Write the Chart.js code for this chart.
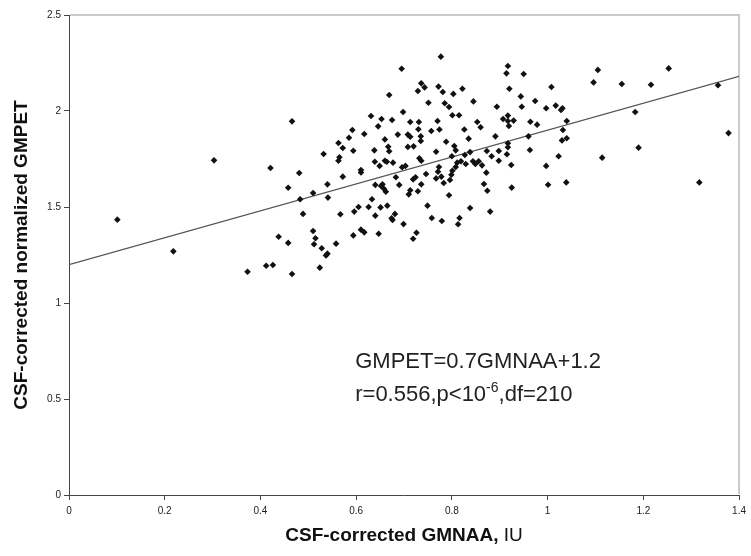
<!DOCTYPE html>
<html>
<head>
<meta charset="utf-8">
<script src="https://cdn.jsdelivr.net/npm/chart.js@4.4.1/dist/chart.umd.min.js"></script>
<style>
  html, body { margin: 0; padding: 0; background: #fff; }
  #wrap { width: 751px; height: 556px; }
</style>
</head>
<body>
<div id="wrap"><canvas id="scatter" width="751" height="556"></canvas></div>
<script>
// CSF-corrected GMNAA (x) and normalized GMPET (y)
const gmnaa = [
  0.101, 0.218, 0.303, 0.421, 0.458, 0.438, 0.458, 0.373, 0.412, 0.426,
  0.695, 0.736, 0.743, 0.729, 0.669, 0.751, 0.698, 0.631, 0.653, 0.675,
  0.466, 0.713, 0.731, 0.646, 0.730, 0.592, 0.617, 0.687, 0.708, 0.713,
  0.735, 0.585, 0.660, 0.735, 0.563, 0.572, 0.667, 0.708, 0.720, 0.594,
  0.638, 0.669, 0.532, 0.565, 0.563, 0.639, 0.660, 0.664, 0.677, 0.649,
  0.732, 0.736, 0.696, 0.703, 0.610, 0.610, 0.481, 0.572, 0.746, 0.540,
  0.510, 0.483, 0.541, 0.640, 0.652, 0.655, 0.658, 0.662, 0.683, 0.690,
  0.719, 0.724, 0.710, 0.713, 0.729, 0.736, 0.749, 0.489, 0.567, 0.596,
  0.605, 0.626, 0.633, 0.651, 0.665, 0.640, 0.681, 0.674, 0.676, 0.699,
  0.510, 0.515, 0.512, 0.528, 0.540, 0.537, 0.558, 0.594, 0.610, 0.617,
  0.647, 0.726, 0.719, 0.524, 0.466, 0.777, 0.917, 0.914, 0.950, 0.772,
  0.781, 0.803, 0.822, 0.920, 1.008, 0.785, 0.794, 0.845, 0.944, 0.974,
  0.894, 0.946, 0.997, 1.017, 1.028, 1.031, 0.801, 0.815, 0.770, 0.907,
  0.917, 0.917, 0.929, 0.919, 0.853, 0.860, 0.964, 0.978, 1.040, 0.757,
  0.774, 0.826, 0.891, 0.835, 0.960, 1.032, 1.030, 1.040, 0.788, 0.805,
  0.808, 0.767, 0.827, 0.838, 0.873, 0.898, 0.917, 0.917, 0.915, 0.963,
  1.023, 0.800, 0.819, 0.829, 0.844, 0.849, 0.856, 0.863, 0.883, 0.898,
  0.773, 0.808, 0.811, 0.924, 0.997, 0.767, 0.771, 0.778, 0.783, 0.796,
  0.799, 0.801, 0.872, 0.867, 0.874, 0.925, 1.001, 1.039, 0.794, 0.838,
  0.880, 0.758, 0.779, 0.816, 0.813, 1.105, 1.253, 1.096, 1.155, 1.216,
  1.356, 1.183, 1.378, 1.190, 1.114, 1.317
];
const gmpet = [
  1.434, 1.269, 1.743, 1.703, 1.600, 1.345, 1.313, 1.163, 1.194, 1.198,
  2.220, 2.144, 2.123, 2.104, 2.083, 2.043, 1.995, 1.974, 1.958, 1.953,
  1.946, 1.943, 1.943, 1.920, 1.905, 1.901, 1.880, 1.877, 1.877, 1.866,
  1.868, 1.861, 1.852, 1.844, 1.833, 1.807, 1.814, 1.813, 1.816, 1.793,
  1.795, 1.790, 1.776, 1.759, 1.741, 1.736, 1.741, 1.736, 1.731, 1.714,
  1.754, 1.741, 1.707, 1.714, 1.693, 1.680, 1.677, 1.658, 1.672, 1.618,
  1.573, 1.540, 1.549, 1.615, 1.609, 1.618, 1.595, 1.580, 1.655, 1.615,
  1.644, 1.655, 1.566, 1.587, 1.582, 1.618, 1.507, 1.464, 1.462, 1.476,
  1.500, 1.500, 1.540, 1.498, 1.507, 1.455, 1.464, 1.441, 1.432, 1.411,
  1.375, 1.337, 1.306, 1.285, 1.257, 1.248, 1.309, 1.352, 1.382, 1.368,
  1.361, 1.366, 1.335, 1.184, 1.151, 2.283, 2.234, 2.196, 2.193, 2.127,
  2.099, 2.089, 2.116, 2.116, 2.125, 2.040, 2.021, 2.050, 2.076, 2.052,
  2.022, 2.022, 2.014, 2.028, 2.005, 2.014, 1.978, 1.978, 1.948, 1.958,
  1.976, 1.948, 1.950, 1.922, 1.943, 1.915, 1.944, 1.929, 1.948, 1.896,
  1.904, 1.904, 1.868, 1.856, 1.868, 1.901, 1.847, 1.858, 1.840, 1.818,
  1.795, 1.788, 1.771, 1.786, 1.792, 1.792, 1.832, 1.811, 1.775, 1.797,
  1.764, 1.764, 1.738, 1.724, 1.738, 1.724, 1.738, 1.717, 1.764, 1.741,
  1.708, 1.708, 1.731, 1.719, 1.714, 1.649, 1.684, 1.658, 1.625, 1.641,
  1.668, 1.689, 1.679, 1.620, 1.585, 1.601, 1.616, 1.628, 1.561, 1.495,
  1.476, 1.443, 1.427, 1.443, 1.410, 2.214, 2.222, 2.149, 2.141, 2.137,
  2.134, 1.995, 1.885, 1.809, 1.757, 1.628
];

// fitted line GMPET = 0.7 GMNAA + 1.2, end points
const fitX = [0, 1.4];
const fitY = [1.2, 2.18];

const xTicks = [0, 0.2, 0.4, 0.6, 0.8, 1, 1.2, 1.4];
const xTickLabels = ['0', '0.2', '0.4', '0.6', '0.8', '1', '1.2', '1.4'];
const yTicks = [0, 0.5, 1, 1.5, 2, 2.5];
const yTickLabels = ['0', '0.5', '1', '1.5', '2', '2.5'];

const xTitle = ['CSF-corrected GMNAA,', ' IU'];
const yTitle = 'CSF-corrected normalized GMPET';
const eqText = 'GMPET=0.7GMNAA+1.2';
const statText = ['r=0.556,p<10', '-6', ',df=210'];

const FONT = '"Liberation Sans", Arial, sans-serif';

// gray frame on top/right, axis titles and the equation text
const decor = {
    id: 'decor',
    beforeDatasetsDraw(chart) {
        const { ctx, chartArea: a } = chart;
        ctx.save();
        ctx.strokeStyle = '#cacaca';
        ctx.lineWidth = 2;
        ctx.beginPath();
        ctx.moveTo(a.left + 1, a.top);
        ctx.lineTo(a.right, a.top);
        ctx.lineTo(a.right, a.bottom - 1);
        ctx.stroke();
        ctx.restore();
    },
    afterDraw(chart) {
        const { ctx, chartArea: a, scales: { x, y } } = chart;
        ctx.save();
        ctx.fillStyle = '#111';
        ctx.textBaseline = 'middle';

        // x title: bold part + normal "IU"
        const boldF = 'bold 19px ' + FONT;
        const normF = '19px ' + FONT;
        ctx.font = boldF;
        const w1 = ctx.measureText(xTitle[0]).width;
        ctx.font = normF;
        const w2 = ctx.measureText(xTitle[1]).width;
        let tx = (a.left + a.right) / 2 - (w1 + w2) / 2;
        ctx.textAlign = 'left';
        ctx.font = boldF;
        ctx.fillText(xTitle[0], tx, 536);
        ctx.font = normF;
        ctx.fillText(xTitle[1], tx + w1, 536);

        // y title, rotated
        ctx.save();
        ctx.translate(22, (a.top + a.bottom) / 2);
        ctx.rotate(-Math.PI / 2);
        ctx.textAlign = 'center';
        ctx.font = boldF;
        ctx.fillText(yTitle, 0, 0);
        ctx.restore();

        // equation block
        ctx.textBaseline = 'alphabetic';
        ctx.textAlign = 'left';
        ctx.fillStyle = '#222';
        const ex = x.getPixelForValue(0.598);
        ctx.font = '22px ' + FONT;
        ctx.fillText(eqText, ex, y.getPixelForValue(0.661));
        const by = y.getPixelForValue(0.49);
        let sx = ex;
        ctx.fillText(statText[0], sx, by);
        sx += ctx.measureText(statText[0]).width;
        ctx.font = '14px ' + FONT;
        ctx.fillText(statText[1], sx, by - 9);
        sx += ctx.measureText(statText[1]).width;
        ctx.font = '22px ' + FONT;
        ctx.fillText(statText[2], sx, by);
        ctx.restore();
    }
};

const scatterCtx = document.getElementById('scatter').getContext('2d');

const scatterChart = new Chart(scatterCtx, {
    type: 'scatter',
    data: {
        datasets: [{
            label: 'GMPET vs GMNAA',
            data: gmnaa.map((v, i) => ({ x: v, y: gmpet[i] })),
            pointStyle: 'rectRot',
            pointRadius: 3.3,
            pointBackgroundColor: '#111',
            pointBorderColor: '#111',
            pointBorderWidth: 0,
            order: 1
        }, {
            type: 'line',
            label: 'fit',
            data: fitX.map((v, i) => ({ x: v, y: fitY[i] })),
            borderColor: '#555',
            borderWidth: 1.2,
            pointRadius: 0,
            fill: false,
            order: 2
        }]
    },
    plugins: [decor],
    options: {
        responsive: false,
        animation: false,
        layout: { padding: { left: 0, top: 15, right: 10, bottom: 0 } },
        plugins: {
            legend: { display: false },
            tooltip: { enabled: false }
        },
        scales: {
            x: {
                type: 'linear',
                min: 0,
                max: 1.4,
                afterBuildTicks: s => { s.ticks = xTicks.map(v => ({ value: v })); },
                afterFit: s => { s.height = 61; },
                ticks: {
                    callback: (v, i) => xTickLabels[i],
                    font: { family: FONT, size: 10 },
                    color: '#222',
                    padding: 5,
                    maxRotation: 0
                },
                grid: { drawOnChartArea: false, tickLength: 5, color: '#444' },
                border: { color: '#444', width: 1 }
            },
            y: {
                type: 'linear',
                min: 0,
                max: 2.5,
                afterBuildTicks: s => { s.ticks = yTicks.map(v => ({ value: v })); },
                afterFit: s => { s.width = 69; },
                ticks: {
                    callback: (v, i) => yTickLabels[i],
                    font: { family: FONT, size: 10 },
                    color: '#222',
                    padding: 3
                },
                grid: { drawOnChartArea: false, tickLength: 5, color: '#444' },
                border: { color: '#444', width: 1 }
            }
        }
    }
});
</script>
</body>
</html>
